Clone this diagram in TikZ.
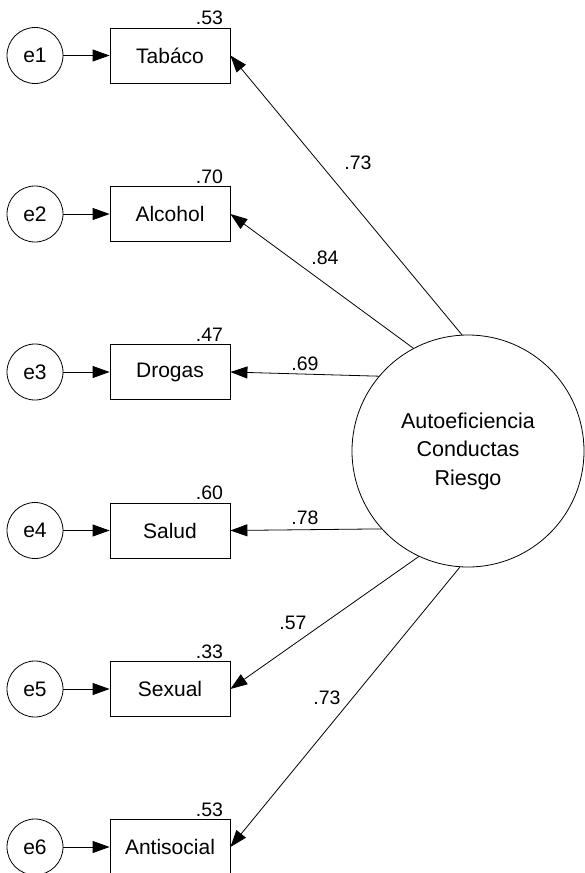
\documentclass[tikz,border=0pt]{standalone}
\usepackage{fontspec}
\setmainfont{Liberation Sans}
\usepackage{tikz}
\usetikzlibrary{shapes.geometric, positioning, arrows.meta, calc}

\begin{document}
\begin{tikzpicture}[x=1pt, y=1pt, line width=0.8pt,
        errnode/.style={draw, circle, minimum size=56pt, inner sep=0pt, font=\fontsize{21}{24}\selectfont},
        obsbox/.style={draw, rectangle, minimum width=120pt, minimum height=55pt, inner sep=0pt, font=\fontsize{21}{24}\selectfont},
        latent/.style={draw, circle, minimum size=232pt, inner sep=0pt, align=center, font=\fontsize{21.5}{28.5}\selectfont},
        rsq/.style={anchor=base east, inner sep=0pt, font=\fontsize{19.5}{22}\selectfont},
        coef/.style={inner sep=0pt, font=\fontsize{19.5}{22}\selectfont},
        path/.style={-{Triangle[length=17pt, width=12pt]}}]
        \useasboundingbox (0,0) rectangle (585,-873);

        % Error terms
        \node[errnode] (e1) at (35, -55.5) {e1};
        \node[errnode] (e2) at (35, -214) {e2};
        \node[errnode] (e3) at (35, -372) {e3};
        \node[errnode] (e4) at (35, -530.5) {e4};
        \node[errnode] (e5) at (35, -689) {e5};
        \node[errnode] (e6) at (35, -847) {e6};

        % Observed variables
        \node[obsbox] (tabaco) at (170, -55.5) {Tabáco};
        \node[obsbox] (alcohol) at (170, -214) {Alcohol};
        \node[obsbox] (drogas) at (170, -372) {Drogas};
        \node[obsbox] (salud) at (170, -530.5) {Salud};
        \node[obsbox] (sexual) at (170, -689) {Sexual};
        \node[obsbox] (antisocial) at (170, -847) {Antisocial};

        % Latent factor
        \node[latent] (acr) at (468, -451) {Autoeficiencia\\Conductas\\Riesgo};

        % R-squared values
        \node[rsq] (r1) at ($(tabaco.north east)+(-7,3)$) {.53};
        \node[rsq] (r2) at ($(alcohol.north east)+(-7,3)$) {.70};
        \node[rsq] (r3) at ($(drogas.north east)+(-7,3)$) {.47};
        \node[rsq] (r4) at ($(salud.north east)+(-7,3)$) {.60};
        \node[rsq] (r5) at ($(sexual.north east)+(-7,3)$) {.33};
        \node[rsq] (r6) at ($(antisocial.north east)+(-7,3)$) {.53};

        % Error paths
        \draw[path] (e1) -- (tabaco);
        \draw[path] (e2) -- (alcohol);
        \draw[path] (e3) -- (drogas);
        \draw[path] (e4) -- (salud);
        \draw[path] (e5) -- (sexual);
        \draw[path] (e6) -- (antisocial);

        % Loadings
        \draw[path] (acr.93.1) -- (tabaco.east);
        \draw[path] (acr.118.7) -- (alcohol.east);
        \draw[path] (acr.140.9) -- (drogas.east);
        \draw[path] (acr.222.5) -- (salud.east);
        \draw[path] (acr.245) -- (sexual.east);
        \draw[path] (acr.266.6) -- (antisocial.east);

        % Loading values
        \node[coef] (l1) at (358, -163) {.73};
        \node[coef] (l2) at (325, -258) {.84};
        \node[coef] (l3) at (305, -364) {.69};
        \node[coef] (l4) at (305, -518) {.78};
        \node[coef] (l5) at (293, -623) {.57};
        \node[coef] (l6) at (327, -698) {.73};
    \end{tikzpicture}
\end{document}
